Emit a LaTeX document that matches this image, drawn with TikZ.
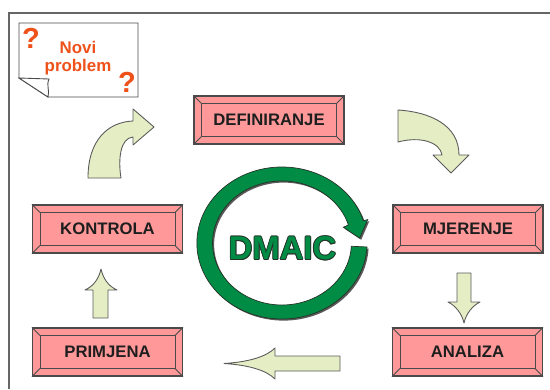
\documentclass[tikz,border=0pt]{standalone}
\usepackage{fontspec}
\setmainfont{Liberation Sans}
\usetikzlibrary{calc}
\definecolor{framegray}{HTML}{666666}
\definecolor{boxpink}{HTML}{FF9999}
\definecolor{boxline}{HTML}{4A4A4A}
\definecolor{ink}{HTML}{1E1E1E}
\definecolor{arrowfill}{HTML}{E5EDC4}
\definecolor{arrowline}{HTML}{5A5A5A}
\definecolor{ringgreen}{HTML}{008C45}
\definecolor{ringline}{HTML}{263328}
\definecolor{ringshade}{HTML}{5A5A5A}
\definecolor{signal}{HTML}{EE5119}
\tikzset{
  stage/.style={draw=boxline,fill=boxpink,line width=.6pt,minimum width=3cm,minimum height=.96cm,
    inner sep=0pt,font=\fontsize{9.5}{11}\selectfont\bfseries,text=ink},
  bevel/.style={draw=boxline,line width=.5pt},
  blockarrow/.style={draw=arrowline,fill=arrowfill,line width=.5pt,line join=round},
  notetext/.style={font=\fontsize{9.6}{10.4}\selectfont\bfseries,text=signal,align=center,inner sep=0pt},
  qmark/.style={font=\fontsize{16.5}{18}\selectfont\bfseries,text=signal,inner sep=0pt},
  dmaicfont/.style={font=\fontsize{18.7}{20}\selectfont\bfseries,inner sep=0pt},
}
\newcommand{\ringpath}{(-3:76) arc[start angle=-3,end angle=-343,radius=76] -- (17:80) -- (4:69.5)
  -- (16:57) -- (17:62) arc[start angle=-343,end angle=-3,radius=62] -- cycle}

\begin{document}
\begin{tikzpicture}[x=0.02cm,y=-0.02cm]
  \useasboundingbox (0,0) rectangle (550,389);
  \draw[framegray,line width=1pt] (9,389) -- (9,13) -- (550,13);

  % note with the folded corner
  \draw[boxline,fill=white,line width=.5pt] (19,23) -- (138,23) -- (138,97) -- (48,97) -- (19,78) -- cycle;
  \draw[boxline,fill=white,line width=.5pt] (19,78) -- (49,79) .. controls (46,86) and (50,90) .. (48,97) -- cycle;
  \node[notetext] (novi) at (78,58) {Novi\\problem};
  \node[qmark] (qa) at (31,38) {?};
  \node[qmark] (qb) at (127,82) {?};

  % the five steps
  \node[stage] (def) at (269,120) {DEFINIRANJE};
  \node[stage] (mje) at (468,229) {MJERENJE};
  \node[stage] (ana) at (467.5,352) {ANALIZA};
  \node[stage] (pri) at (107.5,352) {PRIMJENA};
  \node[stage] (kon) at (107.5,229) {KONTROLA};
  \foreach \n in {def,mje,ana,pri,kon} {
    \draw[bevel] ($(\n.south west)+(.16cm,.16cm)$) rectangle ($(\n.north east)-(.16cm,.16cm)$);
    \draw[bevel] (\n.south west) -- ++(.16cm,.16cm);
    \draw[bevel] (\n.south east) -- ++(-.16cm,.16cm);
    \draw[bevel] (\n.north west) -- ++(.16cm,-.16cm);
    \draw[bevel] (\n.north east) -- ++(-.16cm,-.16cm);
  }

  % block arrows
  \draw[blockarrow] (88,178) .. controls (88,140) and (108,122) .. (133,121) -- (133,109) -- (154,127)
    -- (133,145) -- (133,137) .. controls (120,138) and (118,160) .. (121,178) -- cycle;
  \draw[blockarrow] (398,110) .. controls (430,112) and (459,125) .. (459,155) -- (469,155) -- (451,173)
    -- (433,155) -- (442,155) .. controls (440,142) and (420,136) .. (398,142) -- cycle;
  \draw[blockarrow] (457,273) -- (471,273) -- (471,302) -- (480,302) .. controls (472,306) and (466,314) .. (464,323)
    .. controls (462,314) and (456,306) .. (448,302) -- (457,302) -- cycle;
  \draw[blockarrow] (340,356) -- (275,356) -- (275,348) .. controls (266,357) and (248,362) .. (224,363.5)
    .. controls (248,365) and (266,370) .. (275,379) -- (275,371) -- (340,371) -- cycle;
  \draw[blockarrow] (93,318) -- (93,290) -- (85,290) .. controls (94,286) and (99,278) .. (101,269)
    .. controls (103,278) and (108,286) .. (117,290) -- (108,290) -- (108,318) -- cycle;

  % DMAIC ring
  \begin{scope}[shift={(282,243)},xscale=1.12,yscale=-1]
    \fill[ringshade,shift={(1.4,-1.6)}] \ringpath;
    \draw[ringline,fill=ringgreen,line width=.4pt,line join=miter] \ringpath;
  \end{scope}
  \coordinate (mid) at (282.5,248.5);
  \foreach \dx/\dy in {-.5/0,.5/0,0/-.5,0/.5,-.35/-.35,.35/.35,-.35/.35,.35/-.35}
    \node[dmaicfont,text=ringline] at ([shift={(\dx pt,\dy pt)}]mid) {DMAIC};
  \node[dmaicfont,text=ringgreen] (dmaic) at (mid) {DMAIC};
\end{tikzpicture}
\end{document}
